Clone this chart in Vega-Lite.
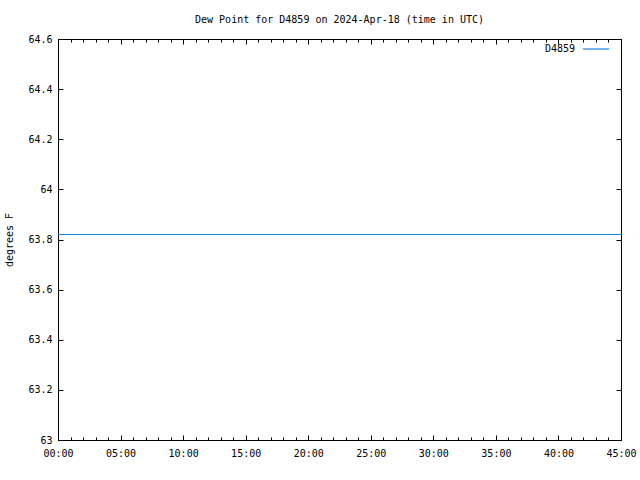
{
  "$schema": "https://vega.github.io/schema/vega-lite/v6.json",
  "width": 563,
  "height": 401,
  "autosize": {"type": "none"},
  "padding": {"left": 58, "top": 39, "right": 19, "bottom": 40},
  "background": "white",
  "config": {
    "font": "DejaVu Sans Mono",
    "view": {"stroke": "black", "strokeWidth": 1},
    "axis": {
      "labelFont": "DejaVu Sans Mono",
      "labelFontSize": 10,
      "labelColor": "black",
      "titleFont": "DejaVu Sans Mono",
      "titleFontSize": 10,
      "titleFontWeight": "normal",
      "titleColor": "black",
      "domainColor": "black",
      "tickColor": "black",
      "grid": false
    }
  },
  "title": {
    "text": "Dew Point for D4859 on 2024-Apr-18 (time in UTC)",
    "font": "DejaVu Sans Mono",
    "fontSize": 10,
    "fontWeight": "normal",
    "color": "black",
    "anchor": "middle",
    "offset": 9
  },
  "data": {
    "values": [
      {"t": 0, "dew": 63.82, "station": "D4859"},
      {"t": 45, "dew": 63.82, "station": "D4859"}
    ]
  },
  "resolve": {"axis": {"x": "independent", "y": "independent"}},
  "layer": [
    {
      "mark": {"type": "line", "strokeWidth": 1.2},
      "encoding": {
        "x": {
          "field": "t",
          "type": "quantitative",
          "scale": {"domain": [0, 45], "nice": false, "zero": false},
          "axis": {
            "orient": "bottom",
            "title": null,
            "values": [0,1,2,3,4,5,6,7,8,9,10,11,12,13,14,15,16,17,18,19,20,21,22,23,24,25,26,27,28,29,30,31,32,33,34,35,36,37,38,39,40,41,42,43,44,45],
            "labelExpr": "datum.value % 5 == 0 ? ((datum.value < 10 ? '0' : '') + datum.value + ':00') : ''",
            "tickSize": {"condition": {"test": "datum.value % 5 == 0", "value": -5}, "value": -3},
            "labelPadding": 13,
            "labelFlush": false,
            "labelOverlap": false
          }
        },
        "y": {
          "field": "dew",
          "type": "quantitative",
          "scale": {"domain": [63, 64.6], "nice": false, "zero": false},
          "axis": {
            "orient": "left",
            "title": "degrees F",
            "values": [63, 63.2, 63.4, 63.6, 63.8, 64, 64.2, 64.4, 64.6],
            "format": "~g",
            "tickSize": -5,
            "labelPadding": 11,
            "titlePadding": 13
          }
        },
        "color": {
          "field": "station",
          "type": "nominal",
          "scale": {"range": ["#1a84e6"]},
          "legend": {
            "title": null,
            "orient": "none",
            "legendX": 524,
            "legendY": -4,
            "symbolType": "stroke",
            "symbolSize": 676,
            "symbolStrokeWidth": 1.2,
            "labelAlign": "right",
            "labelOffset": -35,
            "labelFont": "DejaVu Sans Mono",
            "labelFontSize": 10,
            "labelColor": "black",
            "padding": 0
          }
        }
      }
    },
    {
      "mark": {"type": "line", "opacity": 0},
      "encoding": {
        "x": {
          "field": "t",
          "type": "quantitative",
          "axis": {
            "orient": "top",
            "title": null,
            "values": [0,1,2,3,4,5,6,7,8,9,10,11,12,13,14,15,16,17,18,19,20,21,22,23,24,25,26,27,28,29,30,31,32,33,34,35,36,37,38,39,40,41,42,43,44,45],
            "labels": false,
            "tickSize": {"condition": {"test": "datum.value % 5 == 0", "value": -5}, "value": -3}
          }
        },
        "y": {
          "field": "dew",
          "type": "quantitative",
          "axis": {
            "orient": "right",
            "title": null,
            "values": [63, 63.2, 63.4, 63.6, 63.8, 64, 64.2, 64.4, 64.6],
            "labels": false,
            "tickSize": -5
          }
        }
      }
    }
  ]
}
